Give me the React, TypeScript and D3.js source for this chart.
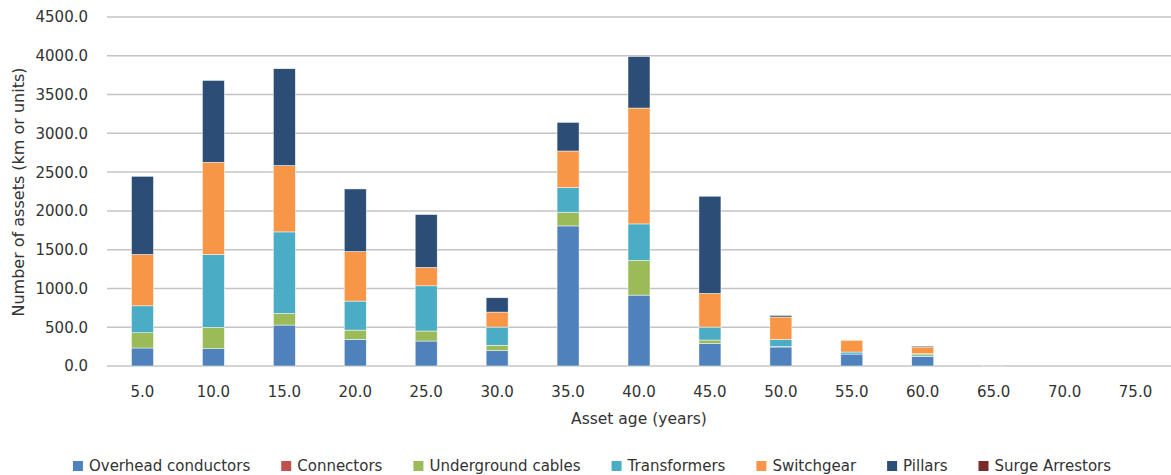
import React, { useEffect, useRef } from 'react';
import * as d3 from 'd3';

const ages = ['5.0', '10.0', '15.0', '20.0', '25.0', '30.0', '35.0', '40.0', '45.0', '50.0', '55.0', '60.0', '65.0', '70.0', '75.0'];

const overheadConductors = [232, 223, 528, 343, 322, 197, 1806, 914, 292, 245, 154, 125, 10, 0, 0];
const connectors = [0, 0, 0, 0, 0, 0, 0, 0, 0, 0, 0, 0, 0, 0, 0];
const undergroundCables = [197, 275, 150, 120, 129, 69, 177, 447, 43, 5, 0, 20, 0, 0, 0];
const transformers = [347, 940, 1051, 374, 583, 236, 317, 471, 167, 90, 26, 13, 0, 0, 0];
const switchgear = [662, 1189, 855, 639, 237, 193, 472, 1494, 434, 292, 151, 87, 0, 0, 0];
const pillars = [1008, 1055, 1249, 807, 682, 185, 369, 665, 1253, 20, 0, 12, 3, 0, 0];
const surgeArrestors = [0, 0, 0, 0, 0, 0, 0, 0, 0, 0, 0, 0, 0, 0, 0];

const seriesNames = ['Overhead conductors', 'Connectors', 'Underground cables', 'Transformers', 'Switchgear', 'Pillars', 'Surge Arrestors'];
const seriesValues = [overheadConductors, connectors, undergroundCables, transformers, switchgear, pillars, surgeArrestors];
const colors = ['#4F81BD', '#C0504D', '#9BBB59', '#4BACC6', '#F79646', '#2C4D75', '#772C2A'];

const yTicks = [0, 500, 1000, 1500, 2000, 2500, 3000, 3500, 4000, 4500];

const W = 1171;
const H = 475;
const FONT = 'DejaVu Sans, sans-serif';

const App = () => {
  const svgRef = useRef<SVGSVGElement>(null);

  useEffect(() => {
    const root = d3.select(svgRef.current);
    root.selectAll('*').remove();

    const margin = { top: 17, right: 0, bottom: 109, left: 107 };
    const width = W - margin.left - margin.right;
    const height = H - margin.top - margin.bottom;

    const rows = ages.map((a, i) => {
      const r: any = { age: a };
      seriesNames.forEach((s, j) => { r[s] = seriesValues[j][i]; });
      return r;
    });
    const stacked = d3.stack().keys(seriesNames)(rows);

    const x = d3.scaleBand().domain(ages).range([0, width]).paddingInner(0.69).paddingOuter(0.345);
    const y = d3.scaleLinear().domain([0, 4500]).range([height, 0]);

    const g = root.append('g').attr('transform', `translate(${margin.left},${margin.top})`);

    // gridlines
    g.append('g')
      .selectAll('line')
      .data(yTicks)
      .enter()
      .append('line')
      .attr('x1', 0)
      .attr('x2', width)
      .attr('y1', d => y(d))
      .attr('y2', d => y(d))
      .attr('stroke', '#c4c4c4')
      .attr('stroke-width', 1.5);

    // y tick labels
    g.append('g')
      .selectAll('text')
      .data(yTicks)
      .enter()
      .append('text')
      .attr('x', -19)
      .attr('y', d => y(d))
      .attr('dy', '0.36em')
      .attr('text-anchor', 'end')
      .attr('font-family', FONT)
      .attr('font-size', 15)
      .attr('fill', '#333')
      .text(d => d.toFixed(1));

    // bars
    g.append('g')
      .selectAll('g')
      .data(stacked)
      .enter()
      .append('g')
      .attr('fill', (d, i) => colors[i])
      .selectAll('rect')
      .data(d => d)
      .enter()
      .append('rect')
      .attr('x', (d: any) => x(d.data.age) as number)
      .attr('width', x.bandwidth())
      .attr('y', d => y(d[1]))
      .attr('height', d => Math.max(0, y(d[0]) - y(d[1])))
      .attr('stroke', '#fff')
      .attr('stroke-width', 0.6)
      .attr('stroke-opacity', (d) => (d[1] - d[0] > 0 ? 0.8 : 0));

    // x tick labels
    g.append('g')
      .selectAll('text')
      .data(ages)
      .enter()
      .append('text')
      .attr('x', d => (x(d) as number) + x.bandwidth() / 2)
      .attr('y', height + 31)
      .attr('text-anchor', 'middle')
      .attr('font-family', FONT)
      .attr('font-size', 15)
      .attr('fill', '#333')
      .text(d => d);

    // axis titles
    g.append('text')
      .attr('x', width / 2)
      .attr('y', height + 58)
      .attr('text-anchor', 'middle')
      .attr('font-family', FONT)
      .attr('font-size', 15.5)
      .attr('fill', '#333')
      .text('Asset age (years)');

    root.append('text')
      .attr('transform', `translate(24,192) rotate(-90)`)
      .attr('text-anchor', 'middle')
      .attr('font-family', FONT)
      .attr('font-size', 16)
      .attr('fill', '#333')
      .text('Number of assets (km or units)');

    // legend
    const legend = root.append('g');
    const items = legend.selectAll('g')
      .data(seriesNames)
      .enter()
      .append('g');
    items.append('rect')
      .attr('width', 10)
      .attr('height', 10)
      .attr('y', -10)
      .attr('fill', (d, i) => colors[i]);
    items.append('text')
      .attr('x', 16)
      .attr('font-family', FONT)
      .attr('font-size', 15)
      .attr('fill', '#333')
      .text(d => d);
    let offset = 0;
    const gap = 31;
    items.each(function () {
      const t = d3.select(this).select('text').node() as SVGTextElement;
      const w = 16 + t.getComputedTextLength();
      d3.select(this).attr('transform', `translate(${offset},0)`);
      offset += w + gap;
    });
    const total = offset - gap;
    legend.attr('transform', `translate(${592 - total / 2},471)`);
  }, []);

  return <svg ref={svgRef} width={W} height={H} style={{ display: 'block', position: 'absolute', left: 0, top: 0 }}></svg>;
};

export default App;
